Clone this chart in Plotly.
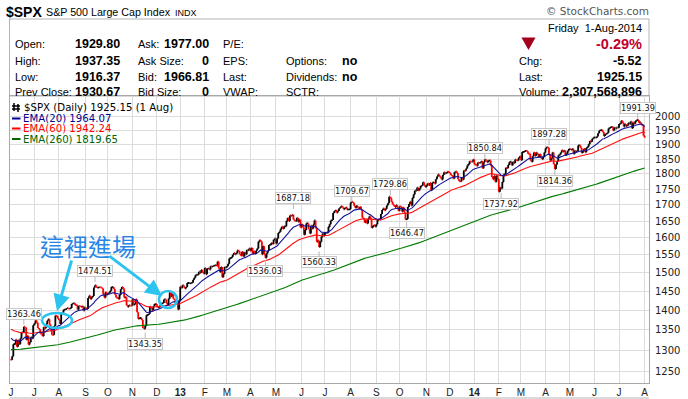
import numpy as np
import pandas as pd
import plotly.graph_objects as go

# ---------------- data (daily closes) ----------------
close_2012 = [1278,1286,1315,1315,1326,1309,1324,1315,1329,1343,1345,1358,1356,1326,1335,1314,1320,1332,1329,1362,
              1366,1374,1368,1355,1352,1341,1341,1335,1357,1354,1364,1373,1377,1363,1351,1338,1338,1360,1386,1385,1379,
              1375,1365,1391,1394,1401,1402,1403,1406,1404,1404,1406,1416,1418,1418,1413,1413,1402,1411,1410,1409,1410,1399,1407,
              1405,1403,1432,1438,1429,1434,1437,1460,1466,1461,1459,1461,1460,1460,1457,1442,1433,1447,1441,
              1444,1446,1451,1461,1461,1456,1441,1433,1433,1429,1440,1455,1461,1457,1433,1434,1413,1409,1413,1412,1412,
              1428,1414,1417,1428,1395,1378,1380,1380,1375,1355,1353,1360,1387,1388,1391,1409,1406,1399,1410,1416,1416,
              1409,1407,1409,1414,1418,1419,1428,1428,1419,1414,1430,1447,1436,1444,1430,1427,1420,1418,1402,1426]
close_2013 = [1462,1459,1466,1462,1457,1461,1472,1472,1471,1472,1473,1481,1486,1493,1495,1495,1503,1500,1508,1502,1498,
              1513,1496,1511,1512,1509,1518,1517,1519,1520,1521,1520,1531,1512,1502,1516,1488,1497,1516,1515,
              1518,1525,1540,1541,1544,1551,1556,1552,1555,1563,1561,1552,1548,1559,1546,1557,1552,1564,1563,1569,
              1562,1570,1554,1560,1553,1563,1569,1588,1593,1589,1552,1575,1552,1542,1555,1562,1579,1579,1585,1582,1594,1598,
              1583,1598,1614,1618,1626,1633,1627,1634,1634,1650,1659,1650,1667,1666,1669,1655,1651,1650,1660,1648,1654,1631,
              1640,1631,1609,1623,1643,1643,1626,1613,1636,1627,1639,1652,1629,1588,1592,1573,1588,1603,1613,1606,
              1614,1615,1615,1632,1640,1652,1653,1675,1680,1683,1676,1681,1689,1692,1696,1692,1686,1690,1692,1685,1686,1686,
              1707,1710,1707,1697,1691,1697,1691,1689,1694,1685,1661,1656,1646,1652,1643,1657,1664,1657,1630,1635,1638,1633,
              1640,1653,1655,1655,1672,1684,1689,1683,1688,1698,1705,1726,1722,1710,1702,1697,1693,1699,1692,1682,
              1695,1694,1679,1691,1676,1655,1656,1693,1703,1710,1698,1722,1733,1745,1745,1755,1746,1752,1760,1762,1772,1763,1757,
              1762,1768,1763,1770,1747,1771,1772,1768,1782,1791,1798,1792,1788,1781,1796,1805,1802,1803,1807,1806,
              1801,1795,1793,1785,1805,1808,1803,1782,1776,1775,1787,1781,1811,1810,1818,1828,1833,1842,1841,1841,1848]
close_2014 = [1832,1831,1827,1838,1837,1838,1842,1819,1839,1848,1846,1839,1844,1845,1828,1790,1782,1793,1774,1794,1783,
              1742,1755,1752,1773,1797,1800,1820,1819,1830,1839,1841,1829,1840,1836,1848,1845,1845,1854,1859,
              1846,1874,1874,1877,1878,1877,1868,1868,1846,1841,1859,1872,1861,1872,1867,1857,1866,1853,1849,1858,1872,
              1886,1891,1889,1865,1845,1852,1872,1833,1816,1831,1843,1862,1865,1872,1880,1875,1879,1863,1869,1878,1884,
              1884,1881,1885,1868,1878,1876,1878,1897,1897,1889,1871,1878,1885,1873,1888,1892,1901,1912,1910,1920,1924,
              1925,1924,1928,1940,1949,1951,1951,1944,1930,1936,1938,1942,1957,1959,1963,1963,1950,1960,1957,1961,1960,
              1973,1975,1985,1978,1964,1973,1965,1968,1977,1973,1982,1958,1978,1974,1984,1987,1988,1978,1979,1970,1970,1931,
              1925]
first_open = 1278.3
ema_seeds = {20: 1330, 60: 1352, 260: 1302}   # EMA values at the first bar

market_holidays = ["2012-07-04","2012-09-03","2012-10-29","2012-10-30","2012-11-22","2012-12-25",
                   "2013-01-01","2013-01-21","2013-02-18","2013-03-29","2013-05-27","2013-07-04",
                   "2013-09-02","2013-11-28","2013-12-25","2014-01-01","2014-01-20","2014-02-17",
                   "2014-04-18","2014-05-26","2014-07-04"]

label_dates  = ["2012-06-19","2012-09-14","2012-11-16","2013-04-18","2013-05-22","2013-06-24","2013-08-02",
                "2013-09-19","2013-10-09","2014-01-15","2014-02-05","2014-04-04","2014-04-11","2014-07-24"]
label_values = [1363.46,1474.51,1343.35,1536.03,1687.18,1560.33,1709.67,1729.86,1646.47,1850.84,1737.92,1897.28,1814.36,1991.39]
label_is_high = [True,True,False,False,True,False,True,True,False,True,False,True,False,True]

month_letters = ["J","F","M","A","M","J","J","A","S","O","N","D"]
y_ticks = list(range(1250, 2001, 50))

# ---------------- derived ----------------
dates = pd.bdate_range("2012-06-04", "2014-08-01")
dates = dates[~dates.isin(pd.to_datetime(market_holidays))]
closes = np.array(close_2012 + close_2013 + close_2014, float)
n = min(len(dates), len(closes))
dates = dates[:n]; closes = closes[:n]
xi = np.arange(n)
opens = np.r_[first_open, closes[:-1]]
highs = np.maximum(opens, closes)
lows = np.minimum(opens, closes)

def ema(vals, period, seed):
    a = 2.0 / (period + 1)
    out = [seed]
    for v in vals[1:]:
        out.append(out[-1] + a * (v - out[-1]))
    return np.array(out)

ema20 = ema(closes, 20, ema_seeds[20])
ema60 = ema(closes, 60, ema_seeds[60])
ema260 = ema(closes, 260, ema_seeds[260])

tickvals, ticktext = [], []
for i, d in enumerate(dates):
    if i == 0 or d.month != dates[i - 1].month:
        tickvals.append(i)
        ticktext.append("<b>%02d</b>" % (d.year % 100) if d.month == 1 else month_letters[d.month - 1])

# ---------------- layout helpers ----------------
W, H = 688, 399
PL, PR, PT, PB = 10, 649, 96, 383
def fx(x): return (x - PL) / (PR - PL)
def fy(y): return (PB - y) / (PB - PT)

K = 1.167  # px per bar
x_lo = (PL - 11) / K
x_hi = (PR - 11) / K
y_top = np.log10(2000) + (116.7 - PT) / 1249.0
y_bot = np.log10(1250) - (PB - 371.7) / 1249.0

fig = go.Figure()
fig.add_trace(go.Ohlc(x=xi, open=opens, high=highs, low=lows, close=closes,
                      increasing=dict(line=dict(color="black", width=1.8)),
                      decreasing=dict(line=dict(color="#ff0000", width=1.8)),
                      tickwidth=0.5, hoverinfo="skip", showlegend=False))
fig.add_trace(go.Scatter(x=xi, y=ema260, mode="lines", line=dict(color="#007a00", width=1.1), hoverinfo="skip", showlegend=False))
fig.add_trace(go.Scatter(x=xi, y=ema60, mode="lines", line=dict(color="#ff1010", width=1.1), hoverinfo="skip", showlegend=False))
fig.add_trace(go.Scatter(x=xi, y=ema20, mode="lines", line=dict(color="#14149c", width=1.1), hoverinfo="skip", showlegend=False))

ann = []
def txt(x, y, s, size=11, color="#000", anchor="left", family="Liberation Sans, Arial", bold=False):
    ann.append(dict(x=fx(x), y=fy(y), xref="paper", yref="paper", text=("<b>%s</b>" % s) if bold else s,
                    showarrow=False, xanchor=anchor, yanchor="middle",
                    font=dict(size=size, color=color, family=family), borderpad=0))

# title row
txt(5, 12, "$SPX", 14, bold=True)
txt(45, 12, "S&P 500 Large Cap Index", 10.7)
txt(174, 12.5, "INDX", 9)
txt(650, 11, "© StockCharts.com", 10.5, "#555", anchor="right", family="DejaVu Sans")
# quote table
rows = [44, 60.5, 76.5, 92]
for lab, val, y in zip(["Open:", "High:", "Low:", "Prev Close:"], ["1929.80", "1937.35", "1916.37", "1930.67"], rows):
    txt(14, y, lab, 11)
    txt(121, y, val, 12.5, anchor="right", bold=True)
for lab, val, y in zip(["Ask:", "Ask Size:", "Bid:", "Bid Size:"], ["1977.00", "0", "1966.81", "0"], rows):
    txt(137, y, lab, 11)
    txt(210, y, val, 12.5, anchor="right", bold=True)
for lab, y in zip(["P/E:", "EPS:", "Last:", "VWAP:"], rows):
    txt(222, y, lab, 11)
for lab, y in zip(["Options:", "Dividends:", "SCTR:"], rows[1:]):
    txt(285, y, lab, 11)
txt(341, rows[1], "no", 12.5, bold=True)
txt(341, rows[2], "no", 12.5, bold=True)
txt(643, 28, "Friday&nbsp;&nbsp;1-Aug-2014", 11, anchor="right")
txt(643, 44, "-0.29%", 14.5, "#c0002a", anchor="right", bold=True)
for lab, val, y in zip(["Chg:", "Last:", "Volume:"], ["-5.52", "1925.15", "2,307,568,896"], rows[1:]):
    txt(518, y, lab, 11)
    txt(643, y, val, 12.5, anchor="right", bold=True)

shapes = []
# red down triangle
shapes.append(dict(type="path", xref="paper", yref="paper", fillcolor="#a3001e", line=dict(width=0),
                   path="M %f %f L %f %f L %f %f Z" % (fx(521.5), fy(37.5), fx(535.5), fy(37.5), fx(528.5), fy(50))))

# legend
txt(23, 107.5, "$SPX (Daily) 1925.15 (1 Aug)", 10.2, family="DejaVu Sans")
leg = [("EMA(20) 1964.07", "#000090", 118.5), ("EMA(60) 1942.24", "#ff0000", 128.5), ("EMA(260) 1819.65", "#006400", 139)]
for s, c, y in leg:
    txt(22, y, s, 10.2, c, family="DejaVu Sans")
    shapes.append(dict(type="line", xref="paper", yref="paper", x0=fx(12), x1=fx(20.5), y0=fy(y), y1=fy(y),
                       line=dict(color=c, width=2)))
# small bar icon in legend
shapes.append(dict(type="path", xref="paper", yref="paper", line=dict(color="black", width=1.5),
                   path="M %f %f L %f %f M %f %f L %f %f M %f %f L %f %f M %f %f L %f %f" % (
                       fx(14), fy(103), fx(14), fy(111), fx(18), fy(104), fx(18), fy(112),
                       fx(12), fy(106), fx(20), fy(106), fx(12), fy(109), fx(20), fy(109))))

# price labels
for d, v, hi in zip(label_dates, label_values, label_is_high):
    i = int(np.searchsorted(dates, pd.Timestamp(d)))
    ann.append(dict(x=i, y=np.log10(v), xref="x", yref="y", text="%.2f" % v, showarrow=True,
                    arrowhead=0, arrowwidth=1, arrowcolor="#b8b8b8", ax=0, ay=(-11 if hi else 11),
                    bgcolor="white", bordercolor="#c8c8c8", borderwidth=1, borderpad=0,
                    font=dict(size=8.2, color="#111", family="DejaVu Sans")))

# Chinese callout
cyan = "#2cc3ef"
ann.append(dict(x=fx(88), y=fy(246), xref="paper", yref="paper", text="這裡進場", showarrow=False,
                xanchor="center", yanchor="middle",
                font=dict(size=24, color="#2a86e6", family="Noto Sans CJK TC")))
for (hx, hy, tx, ty) in [(57, 311, 72, 259), (162, 296, 108, 255)]:
    ann.append(dict(x=fx(hx), y=fy(hy), xref="paper", yref="paper", text="", showarrow=True,
                    ax=tx - hx, ay=ty - hy, axref="pixel", ayref="pixel",
                    arrowhead=2, arrowsize=1.1, arrowwidth=3, arrowcolor=cyan))
for (x0, y0, x1, y1) in [(42, 313, 72, 328), (159, 291, 177, 308)]:
    shapes.append(dict(type="circle", xref="paper", yref="paper", x0=fx(x0), x1=fx(x1), y0=fy(y1), y1=fy(y0),
                       line=dict(color=cyan, width=2.6)))

# header box and outer bottom line
shapes.append(dict(type="rect", xref="paper", yref="paper", x0=fx(9.5), x1=fx(649), y0=fy(96), y1=fy(19),
                   line=dict(color="#b4b4b4", width=1), layer="below"))
shapes.append(dict(type="line", xref="paper", yref="paper", x0=fx(9.5), x1=fx(649), y0=fy(398), y1=fy(398),
                   line=dict(color="#b4b4b4", width=1)))

fig.update_layout(
    width=W, height=H, margin=dict(l=PL, r=W - PR, t=PT, b=H - PB),
    paper_bgcolor="white", plot_bgcolor="white",
    annotations=ann, shapes=shapes, showlegend=False,
    xaxis=dict(range=[x_lo, x_hi], tickvals=tickvals, ticktext=ticktext, showgrid=True,
               gridcolor="#dcdcdc", gridwidth=1, zeroline=False, rangeslider=dict(visible=False),
               showline=True, linecolor="#a8a8a8", mirror=True, ticks="", fixedrange=True,
               automargin=False,
               tickfont=dict(size=10, color="#222", family="Liberation Sans, Arial")),
    yaxis=dict(type="log", range=[y_bot, y_top], side="right", tickvals=y_ticks,
               ticktext=[str(v) for v in y_ticks], showgrid=True, gridcolor="#dcdcdc", zeroline=False,
               showline=True, linecolor="#a8a8a8", mirror=True, ticks="", ticklabelstandoff=3,
               automargin=False, tickfont=dict(size=10, color="#222", family="DejaVu Sans")),
)
fig.write_html("out.html", config={"displayModeBar": False},
               post_script="document.body.style.margin='0';document.body.style.overflow='hidden';")
